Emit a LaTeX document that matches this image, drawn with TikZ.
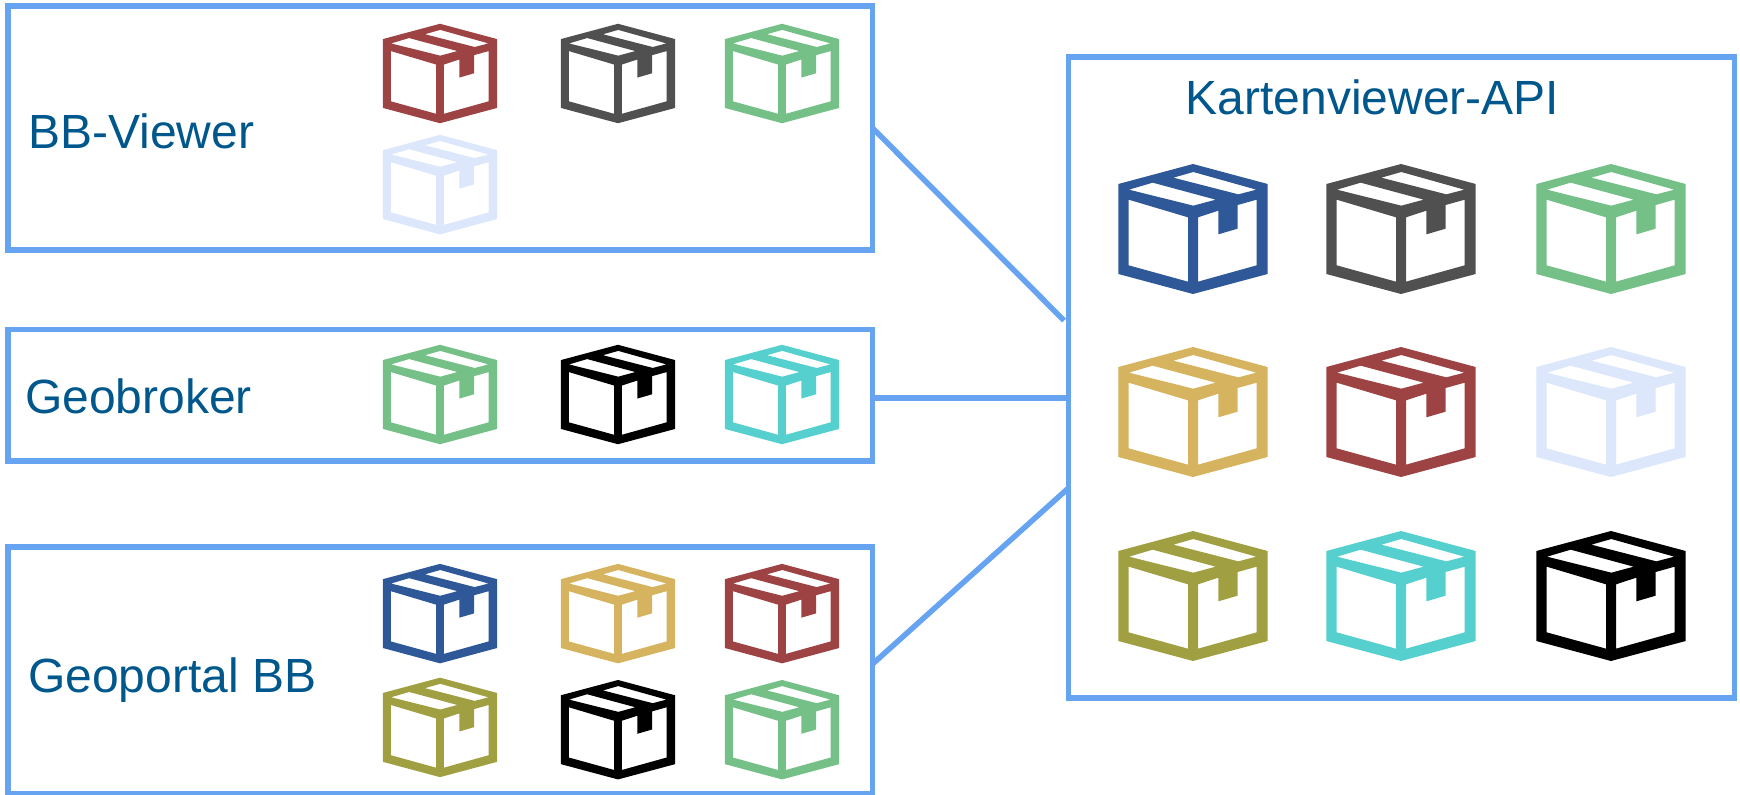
\documentclass[tikz,border=0pt]{standalone}
\usepackage{fontspec}
\setmainfont{Liberation Sans}
\usepackage{xcolor}
\usetikzlibrary{positioning, calc}
\definecolor{frameblue}{RGB}{102,164,242}
\definecolor{labelblue}{RGB}{0,87,140}
\definecolor{brick}{RGB}{158,67,67}
\definecolor{slate}{RGB}{80,80,80}
\definecolor{leaf}{RGB}{117,192,135}
\definecolor{pale}{RGB}{220,231,251}
\definecolor{teal}{RGB}{85,208,206}
\definecolor{navy}{RGB}{47,88,153}
\definecolor{gold}{RGB}{214,180,95}
\definecolor{olive}{RGB}{160,160,67}
\tikzstyle{Frame} = [
draw=frameblue,
line width=5.5pt,
outer sep=0pt,
inner sep=0pt]
\tikzstyle{Link} = [
draw=frameblue,
line width=5.5pt]
\tikzstyle{Title} = [
anchor=base west,
inner sep=0pt,
text=labelblue,
font=\fontsize{48}{50}\selectfont]
\tikzstyle{SmallCrate} = [scale=0.255]
\tikzstyle{BigCrate} = [scale=0.3333]
\tikzset{
crate/.pic={
\fill[even odd rule]
(0,-195) -- (224,-135) -- (224,135) -- (0,195) -- (-224,135) -- (-224,-135) -- cycle
(-193,-88) -- (-15,-35) -- (-15,158) -- (-193,109) -- cycle
(15,-35) -- (76,-55) -- (76,16) -- (134,-1) -- (134,-72) -- (191,-88) -- (191,109) -- (15,158) -- cycle
(-192,-118) -- (-121,-139) -- (68,-88) -- (1,-70) -- cycle
(-59,-154) -- (1,-171) -- (190,-118) -- (136,-104) -- cycle;
}}
\begin{document}
\begin{tikzpicture}[x=1pt, y=-1pt]
    \useasboundingbox (0,0) rectangle (1740,795);

    \node [Frame, minimum width=864.5pt, minimum height=244pt] (viewer) at (440.25,128) {};
    \node [Frame, minimum width=864.5pt, minimum height=131.5pt] (broker) at (440.25,395) {};
    \node [Frame, minimum width=864.5pt, minimum height=247pt] (portal) at (440.25,670.5) {};
    \node [Frame, minimum width=666pt, minimum height=641pt] (api) at (1401.5,377.7) {};

    \node [Title] (viewerlabel) at (28,148.6) {BB-Viewer};
    \node [Title] (brokerlabel) at (25,413) {Geobroker};
    \node [Title] (portallabel) at (28,692) {Geoportal BB};
    \node [Title] (apilabel) at (1185.5,114) {Kartenviewer-API};

    \coordinate (apiviewer) at (1064,320.5);
    \coordinate (apibroker) at (1068.5,398);
    \coordinate (apiportal) at (1068.5,488);
    \draw[Link] (viewer.east) -- (apiviewer);
    \draw[Link] (broker.east |- apibroker) -- (apibroker);
    \draw[Link] (portal.east |- 0,664) -- (apiportal);

    % BB-Viewer
    \pic (va) [SmallCrate, color=brick] at (440,73.5) {crate};
    \pic (vb) [SmallCrate, color=slate] at (618,73.5) {crate};
    \pic (vc) [SmallCrate, color=leaf] at (782,73.5) {crate};
    \pic (vd) [SmallCrate, color=pale] at (440,184.6) {crate};

    % Geobroker
    \pic (ba) [SmallCrate, color=leaf] at (440,394.5) {crate};
    \pic (bb) [SmallCrate, color=black] at (618,394.5) {crate};
    \pic (bc) [SmallCrate, color=teal] at (782,394.5) {crate};

    % Geoportal BB
    \pic (pa) [SmallCrate, color=navy] at (440,613.6) {crate};
    \pic (pb) [SmallCrate, color=gold] at (618,613.6) {crate};
    \pic (pc) [SmallCrate, color=brick] at (782,613.6) {crate};
    \pic (pd) [SmallCrate, color=olive] at (440,727.4) {crate};
    \pic (pe) [SmallCrate, color=black] at (618,729.7) {crate};
    \pic (pf) [SmallCrate, color=leaf] at (782,729.7) {crate};

    % Kartenviewer-API
    \pic (aa) [BigCrate, color=navy] at (1193,229) {crate};
    \pic (ab) [BigCrate, color=slate] at (1401,229) {crate};
    \pic (ac) [BigCrate, color=leaf] at (1611,229) {crate};
    \pic (ad) [BigCrate, color=gold] at (1193,412) {crate};
    \pic (ae) [BigCrate, color=brick] at (1401,412) {crate};
    \pic (af) [BigCrate, color=pale] at (1611,412) {crate};
    \pic (ag) [BigCrate, color=olive] at (1193,596) {crate};
    \pic (ah) [BigCrate, color=teal] at (1401,596) {crate};
    \pic (ai) [BigCrate, color=black] at (1611,596) {crate};
\end{tikzpicture}
\end{document}
